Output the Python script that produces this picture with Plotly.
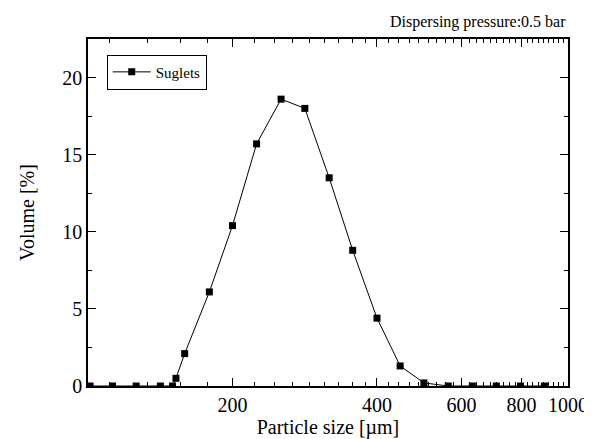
import plotly.graph_objects as go

# particle size distribution
size_um = [101, 112.5, 126, 141.5, 150, 152.5, 159, 179, 200, 224.5, 252.5, 283,
           318, 356, 400, 447, 501, 563, 632, 709, 796, 893]
volume_pct = [0, 0, 0, 0, 0, 0.5, 2.1, 6.1, 10.4, 15.7, 18.6, 18.0,
              13.5, 8.8, 4.4, 1.3, 0.2, 0, 0, 0, 0, 0]

x_ticks = [200, 400, 600, 800, 1000]

# minor ticks every 200/9 like the original software
step = 200 / 9
x_minor = [200 - step * k for k in range(1, 5)]
v = 200
while v < 1000 - 1:
    for k in range(1, 9):
        x_minor.append(v + step * k)
    v += 200

serif = "Liberation Serif, Times New Roman, serif"

fig = go.Figure()
fig.add_trace(go.Scatter(x=size_um, y=volume_pct, mode="lines+markers",
                         name="Suglets",
                         line=dict(color="black", width=1),
                         marker=dict(symbol="square", size=7, color="black")))
# invisible point on the overlay x axis so its minor ticks get drawn
fig.add_trace(go.Scatter(x=size_um[:1], y=volume_pct[:1], xaxis="x2", yaxis="y",
                         showlegend=False, hoverinfo="skip", mode="markers",
                         marker=dict(opacity=0)))

fig.update_layout(
    width=592, height=439,
    margin=dict(l=80, r=29, t=31, b=61),
    plot_bgcolor="white", paper_bgcolor="white",
    font=dict(family=serif, size=20, color="black"),
    legend=dict(x=0.039, y=0.955, xanchor="left", yanchor="top",
                bordercolor="black", borderwidth=1, bgcolor="white",
                font=dict(size=15), itemwidth=38),
    xaxis2=dict(type="log", range=[2, 3], overlaying="x", anchor="y", side="bottom",
                tickmode="array", tickvals=x_minor, showticklabels=False,
                ticks="inside", ticklen=4, tickwidth=1, tickcolor="black",
                showline=False, mirror="ticks",
                showgrid=False, zeroline=False),
    xaxis=dict(
        type="log", range=[2, 3],
        tickvals=x_ticks, ticktext=[str(t) for t in x_ticks],
        ticks="inside", ticklen=8, tickwidth=1, tickcolor="black",
        showline=True, linecolor="black", linewidth=1.5, mirror="ticks",
        showgrid=False, zeroline=False,
        title=dict(text="Particle size [µm]", font=dict(size=20), standoff=4),
    ),
    yaxis=dict(
        range=[0, 22.5], tickmode="linear", tick0=0, dtick=5,
        ticks="inside", ticklen=8, tickwidth=1, tickcolor="black",
        showline=True, linecolor="black", linewidth=1.5, mirror="ticks",
        showgrid=False, zeroline=False,
        minor=dict(dtick=2.5, ticks="inside", ticklen=4, tickcolor="black"),
        title=dict(text="Volume [%]", font=dict(size=20), standoff=22),
    ),
)

fig.add_annotation(text="Dispersing pressure:0.5 bar", xref="paper", yref="paper",
                   x=1.0, y=1.0, xanchor="right", yanchor="bottom", yshift=6,
                   showarrow=False, font=dict(size=16))

fig.write_html("out.html")
